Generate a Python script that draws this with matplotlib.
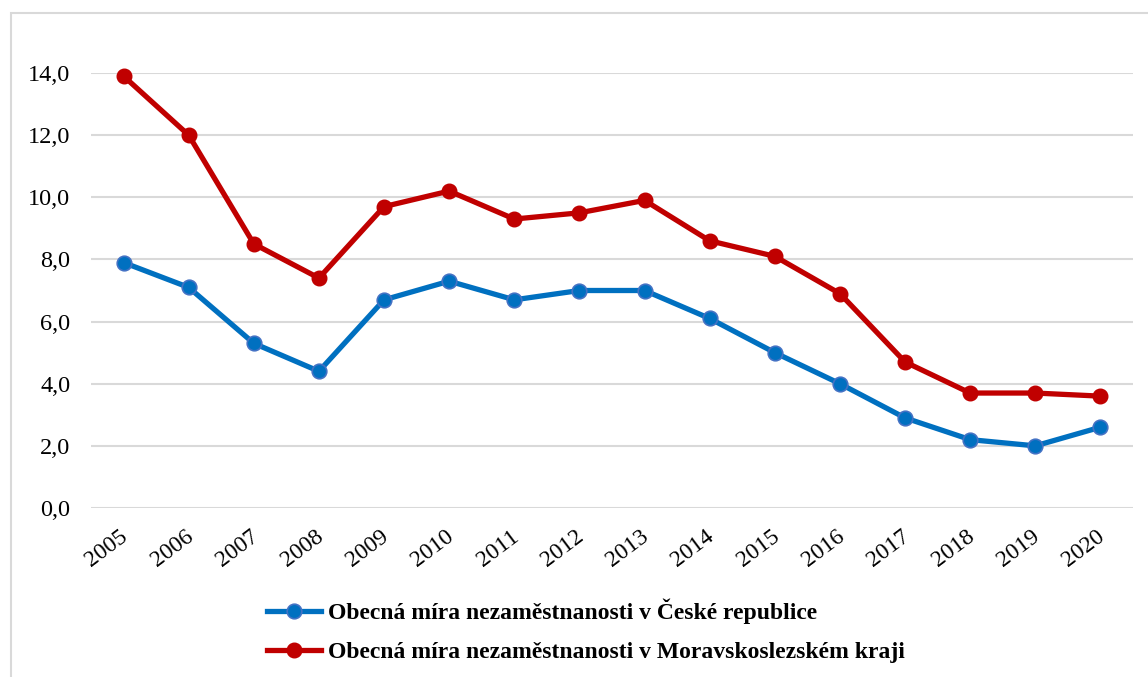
import matplotlib.pyplot as plt
from matplotlib.patches import Rectangle
from matplotlib.ticker import FuncFormatter
import matplotlib.transforms as mtrans

plt.rcParams['font.family'] = ['Liberation Serif', 'DejaVu Serif']

years = [str(y) for y in range(2005, 2021)]
cr = [7.9, 7.1, 5.3, 4.4, 6.7, 7.3, 6.7, 7.0, 7.0, 6.1, 5.0, 4.0, 2.9, 2.2, 2.0, 2.6]
msk = [13.9, 12.0, 8.5, 7.4, 9.7, 10.2, 9.3, 9.5, 9.9, 8.6, 8.1, 6.9, 4.7, 3.7, 3.7, 3.6]
labels = ["Obecná míra nezaměstnanosti v České republice",
          "Obecná míra nezaměstnanosti v Moravskoslezském kraji"]

fig = plt.figure(figsize=(11.48, 6.77), dpi=100)
ax = fig.add_axes([91/1148, 169/677, (1133-91)/1148, (508-73)/677])

x = list(range(len(years)))
ax.plot(x, cr, color='#0070C0', lw=3.8, marker='o', ms=10.5,
        mfc='#0070C0', mec='#4472C4', mew=1.2, label=labels[0], clip_on=False, zorder=3)
ax.plot(x, msk, color='#C00000', lw=3.8, marker='o', ms=10.5,
        mfc='#C00000', mec='#C00000', label=labels[1], clip_on=False, zorder=3)

ax.set_xlim(-0.5, len(years) - 0.5)
ax.set_ylim(0, 14)
ax.set_yticks(range(0, 15, 2))
ax.yaxis.set_major_formatter(FuncFormatter(lambda v, p: ("%.1f" % v).replace('.', ',')))
ax.set_xticks(x)
ax.set_xticklabels(years, rotation=37, ha='right', rotation_mode='anchor')
ax.tick_params(axis='y', length=0, pad=15, labelsize=17.5)
ax.tick_params(axis='x', length=0, pad=13, labelsize=17)
# nudge x labels a bit to the left like the original
off = mtrans.ScaledTranslation(-3/72, 0, fig.dpi_scale_trans)
for lab in ax.get_xticklabels():
    lab.set_transform(lab.get_transform() + off)
ax.grid(axis='y', color='#D9D9D9', lw=1.5)
ax.set_axisbelow(True)
for s in ax.spines.values():
    s.set_visible(False)

leg = fig.legend(loc='center left', bbox_to_anchor=(255/1148, (677-631)/677),
                 frameon=False, borderpad=0, handlelength=2.3, handletextpad=0.3,
                 labelspacing=0.72, prop={'size': 17, 'weight': 'bold'})

fig.patches.append(Rectangle((11/1148, -0.01), 1.2, (677-13)/677 + 0.01,
                             transform=fig.transFigure, fill=False,
                             edgecolor='#D9D9D9', lw=1.5))

plt.savefig('out.png', dpi=100)
